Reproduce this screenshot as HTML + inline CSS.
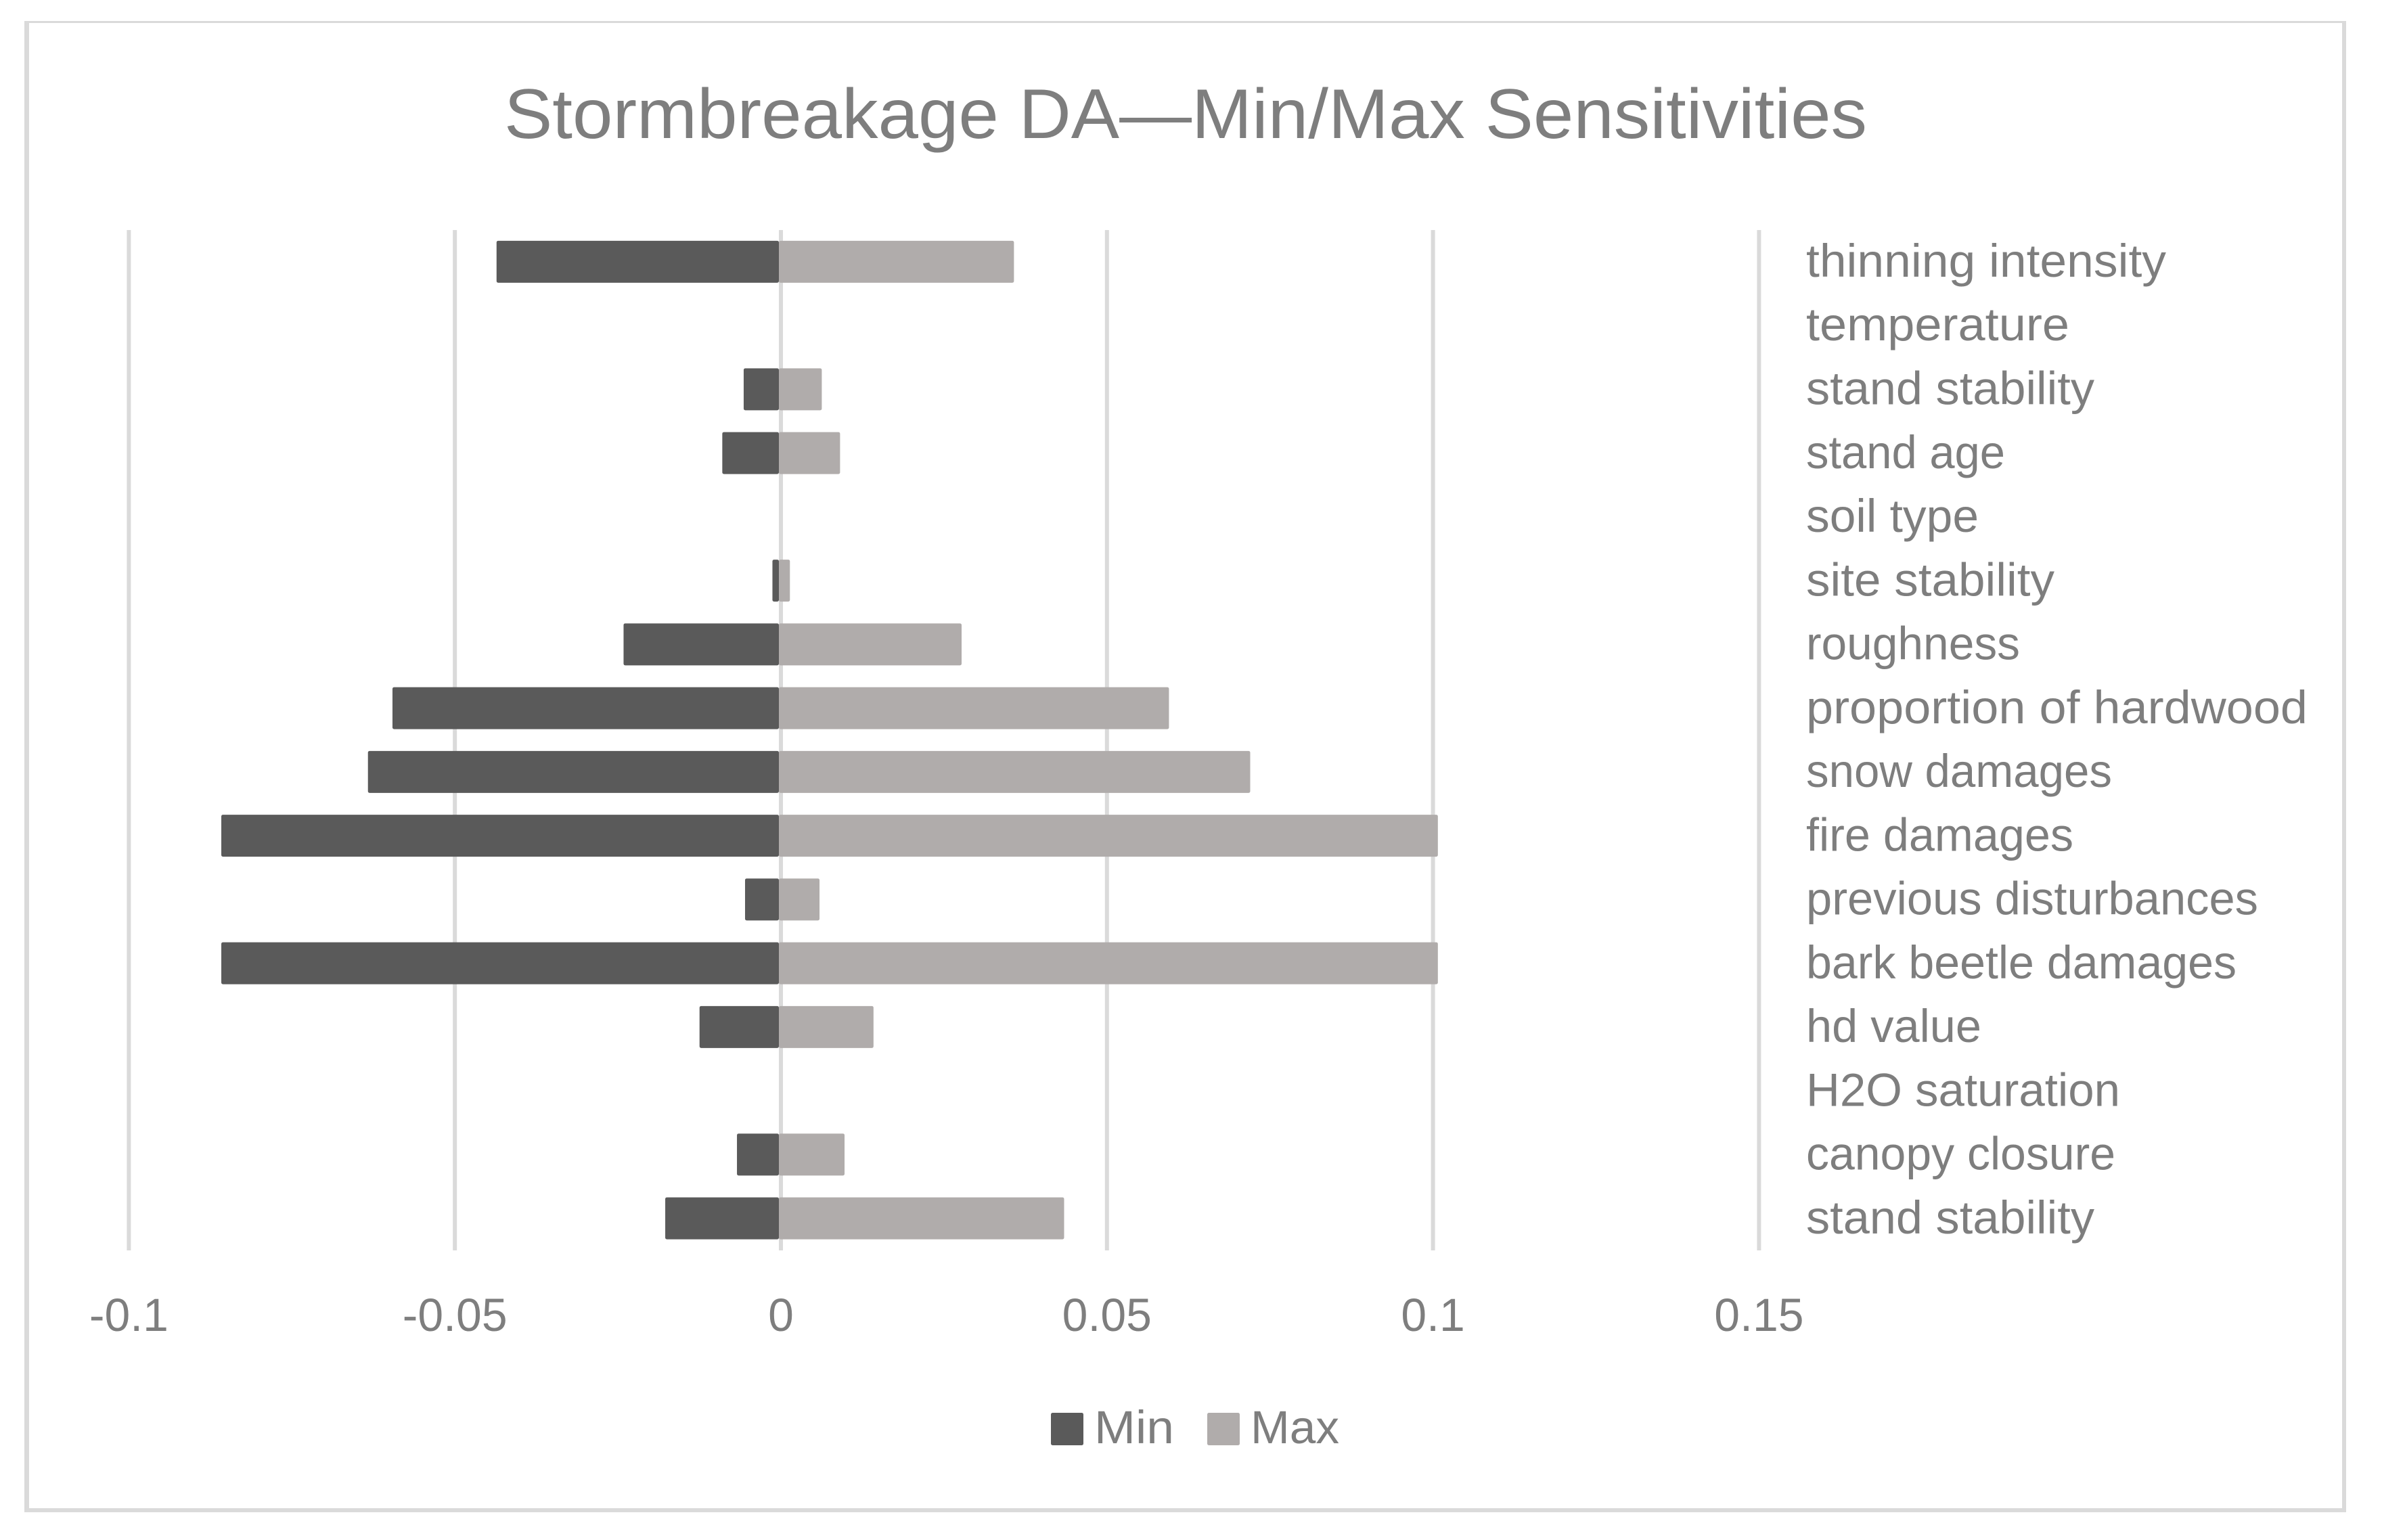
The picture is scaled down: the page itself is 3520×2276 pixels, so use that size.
<!DOCTYPE html>
<html lang="en">
<head>
<meta charset="utf-8">
<title>Stormbreakage DA—Min/Max Sensitivities</title>
<style>
  html, body { margin: 0; padding: 0; background: #fff; width: 3520px; height: 2276px; overflow: hidden; }
  svg { display: block; }
  text { font-family: "Liberation Sans", sans-serif; fill: #7e7e7e; }
</style>
</head>
<body>
<svg id="chart" xmlns="http://www.w3.org/2000/svg" width="3520" height="2276" viewBox="0 0 3520 2276">
  <rect x="0" y="0" width="3520" height="2276" fill="#ffffff"/>
  <g fill="#dadada">
    <rect x="36" y="31" width="3431" height="3"/>
    <rect x="36" y="31" width="7" height="2204"/>
    <rect x="3461" y="31" width="6" height="2204"/>
    <rect x="36" y="2229" width="3431" height="6"/>
  </g>
  <text x="745" y="204" font-size="104" textLength="2014" lengthAdjust="spacingAndGlyphs">Stormbreakage DA—Min/Max Sensitivities</text>
  <g id="gridlines"></g>
  <g id="bars"></g>
  <g id="x-ticks"></g>
  <g font-size="69">
    <text x="2669" y="409" textLength="532" lengthAdjust="spacingAndGlyphs">thinning intensity</text>
    <text x="2669" y="503" textLength="389" lengthAdjust="spacingAndGlyphs">temperature</text>
    <text x="2669" y="597.5" textLength="426" lengthAdjust="spacingAndGlyphs">stand stability</text>
    <text x="2669" y="692" textLength="294" lengthAdjust="spacingAndGlyphs">stand age</text>
    <text x="2669" y="786" textLength="255" lengthAdjust="spacingAndGlyphs">soil type</text>
    <text x="2669" y="880.5" textLength="367" lengthAdjust="spacingAndGlyphs">site stability</text>
    <text x="2669" y="974.5" textLength="316" lengthAdjust="spacingAndGlyphs">roughness</text>
    <text x="2669" y="1069" textLength="741" lengthAdjust="spacingAndGlyphs">proportion of hardwood</text>
    <text x="2669" y="1163" textLength="452" lengthAdjust="spacingAndGlyphs">snow damages</text>
    <text x="2669" y="1257.5" textLength="395" lengthAdjust="spacingAndGlyphs">fire damages</text>
    <text x="2669" y="1351.5" textLength="668" lengthAdjust="spacingAndGlyphs">previous disturbances</text>
    <text x="2669" y="1446" textLength="636" lengthAdjust="spacingAndGlyphs">bark beetle damages</text>
    <text x="2669" y="1540" textLength="259" lengthAdjust="spacingAndGlyphs">hd value</text>
    <text x="2669" y="1634.5" textLength="464" lengthAdjust="spacingAndGlyphs">H2O saturation</text>
    <text x="2669" y="1728.5" textLength="457" lengthAdjust="spacingAndGlyphs">canopy closure</text>
    <text x="2669" y="1823" textLength="426" lengthAdjust="spacingAndGlyphs">stand stability</text>
  </g>
  <g>
    <g>
      <rect x="1553" y="2088" width="48" height="48" rx="2.5" fill="#5a5a5a"/>
      <text x="1617" y="2133" font-size="69" textLength="118" lengthAdjust="spacingAndGlyphs">Min</text>
    </g>
    <g>
      <rect x="1784" y="2088" width="48" height="48" rx="2.5" fill="#b0acab"/>
      <text x="1848" y="2133" font-size="69" textLength="131" lengthAdjust="spacingAndGlyphs">Max</text>
    </g>
  </g>
</svg>
<script>
// Chart data, top row first
const categories = ["thinning intensity", "temperature", "stand stability", "stand age", "soil type", "site stability", "roughness", "proportion of hardwood", "snow damages", "fire damages", "previous disturbances", "bark beetle damages", "hd value", "H2O saturation", "canopy closure", "stand stability"];
const minValues = [-0.0433, 0, -0.0054, -0.00868, 0, -0.00099, -0.02382, -0.05926, -0.06302, -0.08551, -0.00519, -0.08551, -0.01217, 0, -0.00643, -0.01743];
const maxValues = [0.03605, 0, 0.00658, 0.00938, 0, 0.00169, 0.02802, 0.05982, 0.07228, 0.10106, 0.00623, 0.10106, 0.01451, 0, 0.01007, 0.04374];
const xTickValues = [-0.1, -0.05, 0, 0.05, 0.1, 0.15];
const xTickLabels = ["-0.1", "-0.05", "0", "0.05", "0.1", "0.15"];

const NS = "http://www.w3.org/2000/svg";
const plotTop = 340;
const plotBottom = 1848;
const zeroX = 1154;
const unitPx = 9636;
const barBaseOffset = -3;
const rowPitch = (plotBottom - plotTop) / categories.length;
const barHeight = 62;

function xScale(v) { return zeroX + v * unitPx; }
function rowCenter(i) { return plotTop + rowPitch * (i + 0.5) - 0.3; }
function barLeft(v) { return Math.min(xScale(v), xScale(0)) + barBaseOffset; }
function slug(s) { return s.toLowerCase().replace(/[^a-z0-9]+/g, "-"); }

const gridGroup = document.getElementById("gridlines");
const barsGroup = document.getElementById("bars");
const ticksGroup = document.getElementById("x-ticks");

xTickValues.forEach(function (v, i) {
  const line = document.createElementNS(NS, "rect");
  line.setAttribute("x", xScale(v) - 3);
  line.setAttribute("y", plotTop);
  line.setAttribute("width", 6);
  line.setAttribute("height", plotBottom - plotTop);
  line.setAttribute("fill", "#dadada");
  
  
  gridGroup.appendChild(line);

  const label = document.createElementNS(NS, "text");
  label.setAttribute("transform", "translate(" + xScale(v) + ",1967) scale(0.985,1)");
  label.setAttribute("text-anchor", "middle");
  label.setAttribute("font-size", 69);
  label.textContent = xTickLabels[i];
  
  
  ticksGroup.appendChild(label);
});

function addBar(i, v, fill, series) {
  const width = Math.abs(v) * unitPx;
  if (width <= 0) return;
  const bar = document.createElementNS(NS, "rect");
  bar.setAttribute("x", barLeft(v));
  bar.setAttribute("y", rowCenter(i) - barHeight / 2);
  bar.setAttribute("width", width);
  bar.setAttribute("height", barHeight);
  bar.setAttribute("rx", 2.5);
  bar.setAttribute("fill", fill);
  
  
  bar.setAttribute("aria-label", series + " " + slug(categories[i]));
  barsGroup.appendChild(bar);
}

categories.forEach(function (c, i) { addBar(i, minValues[i], "#5a5a5a", "min"); });
categories.forEach(function (c, i) { addBar(i, maxValues[i], "#b0acab", "max"); });
</script>
</body>
</html>
